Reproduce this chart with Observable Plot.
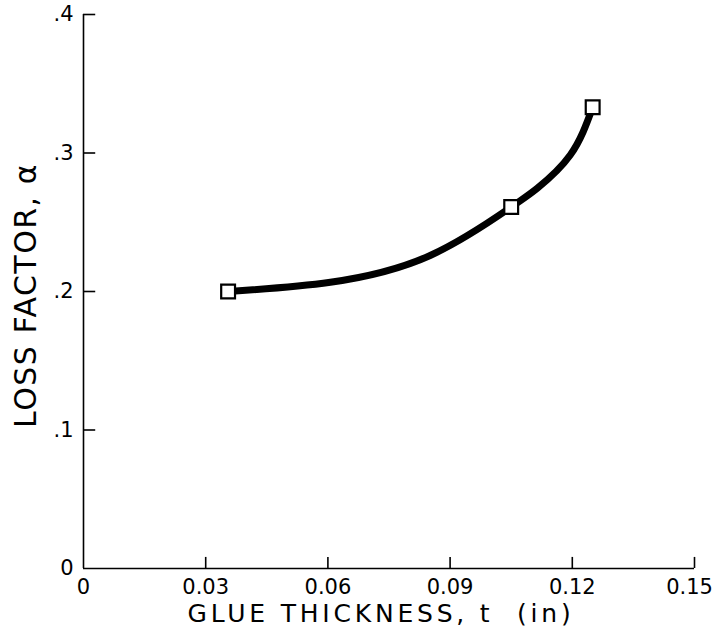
<!DOCTYPE html>
<html>
<head>
<meta charset="utf-8">
<script src="https://cdn.jsdelivr.net/npm/d3@7"></script>
<script src="https://cdn.jsdelivr.net/npm/@observablehq/plot@0.6"></script>
<style>
  html, body { margin: 0; padding: 0; background: #fff; }
  svg { display: block; }
</style>
</head>
<body>
<div id="chart"></div>
<script>
// Measured points (square markers)
const thickness = [0.0355, 0.105, 0.125];
const lossFactor = [0.200, 0.261, 0.333];

// Points
const curveT = [0.0355, 0.0606, 0.0851, 0.105, 0.1114, 0.1195, 0.125];
const curveA = [0.200, 0.2067, 0.226, 0.261, 0.2745, 0.2985, 0.333];

// Ticks
const xTicks = [0, 0.03, 0.06, 0.09, 0.12, 0.15];
const xTickLabels = ["0", "0.03", "0.06", "0.09", "0.12", "0.15"];
const yTicks = [0, 0.1, 0.2, 0.3, 0.4];
const yTickLabels = ["0", ".1", ".2", ".3", ".4"];

const xTitle = "GLUE THICKNESS, t  (in)";
const yTitle = "LOSS FACTOR, α";

const points = thickness.map((t, i) => ({t, a: lossFactor[i]}));
const curve = curveT.map((t, i) => ({t, a: curveA[i]}));
const xLab = xTicks.map((t, i) => ({t, label: xTickLabels[i]}));

const font = "'DejaVu Sans', sans-serif";

const chart = Plot.plot({
  width: 716,
  height: 640,
  marginLeft: 83,
  marginRight: 22,
  marginTop: 14,
  marginBottom: 72,
  style: {fontFamily: font, background: "#fff", color: "#000"},
  x: {domain: [0, 0.15], axis: null},
  y: {domain: [0, 0.4], axis: null},
  marks: [
    // axis lines
    Plot.ruleX([0], {y1: 0, y2: 0.4, stroke: "#000", strokeWidth: 1.6}),
    Plot.ruleY([0], {x1: 0, x2: 0.15, stroke: "#000", strokeWidth: 1.6}),
    // inward ticks
    Plot.ruleY(yTicks.filter(d => d > 0), {x1: 0, x2: 0.003, stroke: "#000", strokeWidth: 1.6}),
    Plot.ruleX(xTicks.filter(d => d > 0), {y1: 0, y2: 0.008, stroke: "#000", strokeWidth: 1.6}),
    // tick labels
    Plot.text(yTicks, {x: 0, y: d => d, text: (d, i) => yTickLabels[i], textAnchor: "end", dx: -10, fontSize: 21, fill: "#000"}),
    Plot.text(xLab.slice(0, -1), {x: "t", y: 0, text: "label", dy: 18.5, fontSize: 21, fill: "#000"}),
    Plot.text(xLab.slice(-1), {x: "t", y: 0, text: "label", dy: 18.5, dx: -5, fontSize: 21, fill: "#000"}),
    // curve
    Plot.line(curve, {x: "t", y: "a", curve: "natural", stroke: "#000", strokeWidth: 7}),
    // markers
    Plot.dot(points, {x: "t", y: "a", symbol: "square", r: 7.8, fill: "#fff", stroke: "#000", strokeWidth: 2.2}),
    // titles
    Plot.text([xTitle], {frameAnchor: "bottom", textAnchor: "middle", dx: -8, dy: 53, fontSize: 25, text: d => d, fill: "#000"}),
    Plot.text([yTitle], {frameAnchor: "left", textAnchor: "middle", dx: -57, dy: 4, rotate: -90, fontSize: 30, text: d => d, fill: "#000"})
  ]
});
// letter spacing on the axis titles (lettering style of the original)
d3.select(chart).selectAll("text").each(function() {
  const s = this.textContent;
  if (s === xTitle) this.setAttribute("letter-spacing", "3.8");
  if (s === yTitle) this.setAttribute("letter-spacing", "1.5");
});
document.getElementById("chart").appendChild(chart);
</script>
</body>
</html>
